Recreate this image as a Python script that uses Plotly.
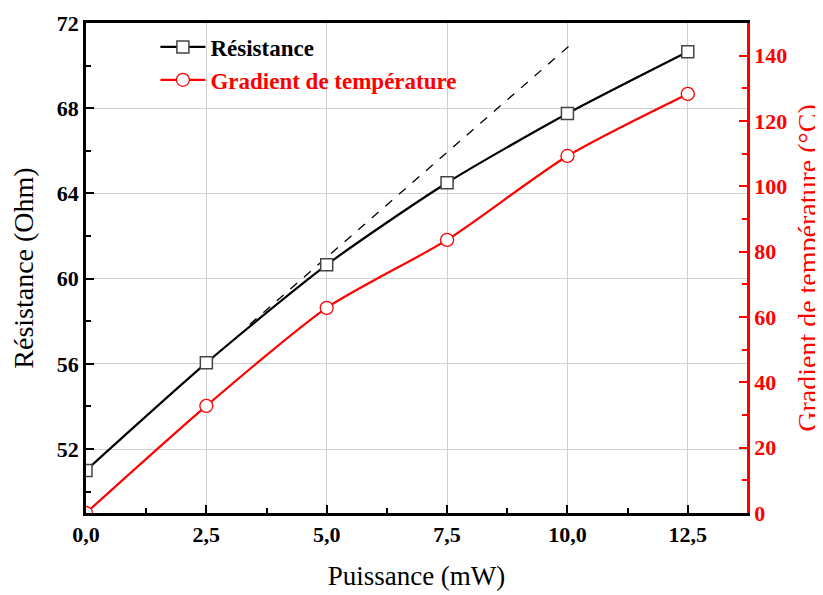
import plotly.graph_objects as go

# Puissance (mW)
puissance = [0.0, 2.5, 5.0, 7.5, 10.0, 12.5]
# Résistance (Ohm)
resistance = [51.0, 56.05, 60.65, 64.5, 67.75, 70.65]
# Gradient de température (°C)
gradient = [0.0, 32.8, 62.8, 83.6, 109.3, 128.3]
# tangente linéaire (pointillés)
tangente_x = [3.4, 10.15]
tangente_y = [57.85, 71.15]

SERIF = "Liberation Serif, Times New Roman, serif"
RED = "#ff0000"

fig = go.Figure()

fig.add_trace(go.Scatter(
    x=tangente_x, y=tangente_y, mode="lines", showlegend=False,
    line=dict(color="black", width=1.3, dash="dash"), hoverinfo="skip",
))
fig.add_trace(go.Scatter(
    x=puissance, y=resistance, mode="lines+markers",
    name="<b>Résistance</b>",
    line=dict(color="black", width=2.2, shape="spline", smoothing=0.7),
    marker=dict(symbol="square", size=12, color="white",
                line=dict(color="#444444", width=1.5)),
))
fig.add_trace(go.Scatter(
    x=puissance, y=gradient, mode="lines+markers", yaxis="y2",
    name="<b><span style='color:#ff0000'>Gradient de température</span></b>",
    line=dict(color=RED, width=2.2, shape="spline", smoothing=0.7),
    marker=dict(symbol="circle", size=13, color="white",
                line=dict(color=RED, width=1.3)),
))

# la page ajoute une marge de 8 px : figure de 815 x 587
fig.update_layout(
    width=815, height=587,
    margin=dict(l=78, r=76, t=15, b=82, autoexpand=False),
    paper_bgcolor="white", plot_bgcolor="white",
    separators=", ",
    font=dict(family=SERIF, size=20, color="black"),
    legend=dict(x=0.105, y=0.995, xanchor="left", yanchor="top",
                bgcolor="rgba(0,0,0,0)", font=dict(size=23, family=SERIF),
                itemwidth=45, tracegroupgap=0),
    xaxis=dict(
        range=[0, 13.73], tickvals=puissance, tickformat=".1f",
        title=dict(text="Puissance (mW)", font=dict(size=27), standoff=20),
        tickfont=dict(size=22, family=SERIF, weight="bold"),
        showline=True, linecolor="black", linewidth=2.5, mirror=True,
        ticks="inside", ticklen=8, tickwidth=2, tickcolor="black",
        minor=dict(ticks="inside", ticklen=5, tickwidth=2, dtick=1.25,
                   tick0=0, tickcolor="black"),
        showgrid=True, gridcolor="#d0d0d0", gridwidth=1, zeroline=False,
        automargin=False,
    ),
    yaxis=dict(
        range=[49, 72], tickvals=[52, 56, 60, 64, 68, 72],
        title=dict(text="Résistance (Ohm)", font=dict(size=28), standoff=20),
        tickfont=dict(size=22, family=SERIF, weight="bold"),
        showline=True, linecolor="black", linewidth=2.5,
        ticks="inside", ticklen=8, tickwidth=2, tickcolor="black",
        minor=dict(ticks="inside", ticklen=5, tickwidth=2, dtick=2,
                   tick0=0, tickcolor="black"),
        showgrid=True, gridcolor="#d0d0d0", gridwidth=1, zeroline=False,
        automargin=False,
    ),
    yaxis2=dict(
        range=[0, 150], overlaying="y", side="right", dtick=20,
        title=dict(text="Gradient de température (°C)",
                   font=dict(size=28, color=RED), standoff=16),
        tickfont=dict(size=22, family=SERIF, weight="bold", color=RED),
        showline=True, linecolor=RED, linewidth=2.5,
        ticks="inside", ticklen=8, tickwidth=2, tickcolor=RED,
        minor=dict(ticks="inside", ticklen=5, tickwidth=2, dtick=10,
                   tick0=0, tickcolor=RED),
        showgrid=False, zeroline=False, automargin=False,
    ),
)

fig.write_html("out.html")
